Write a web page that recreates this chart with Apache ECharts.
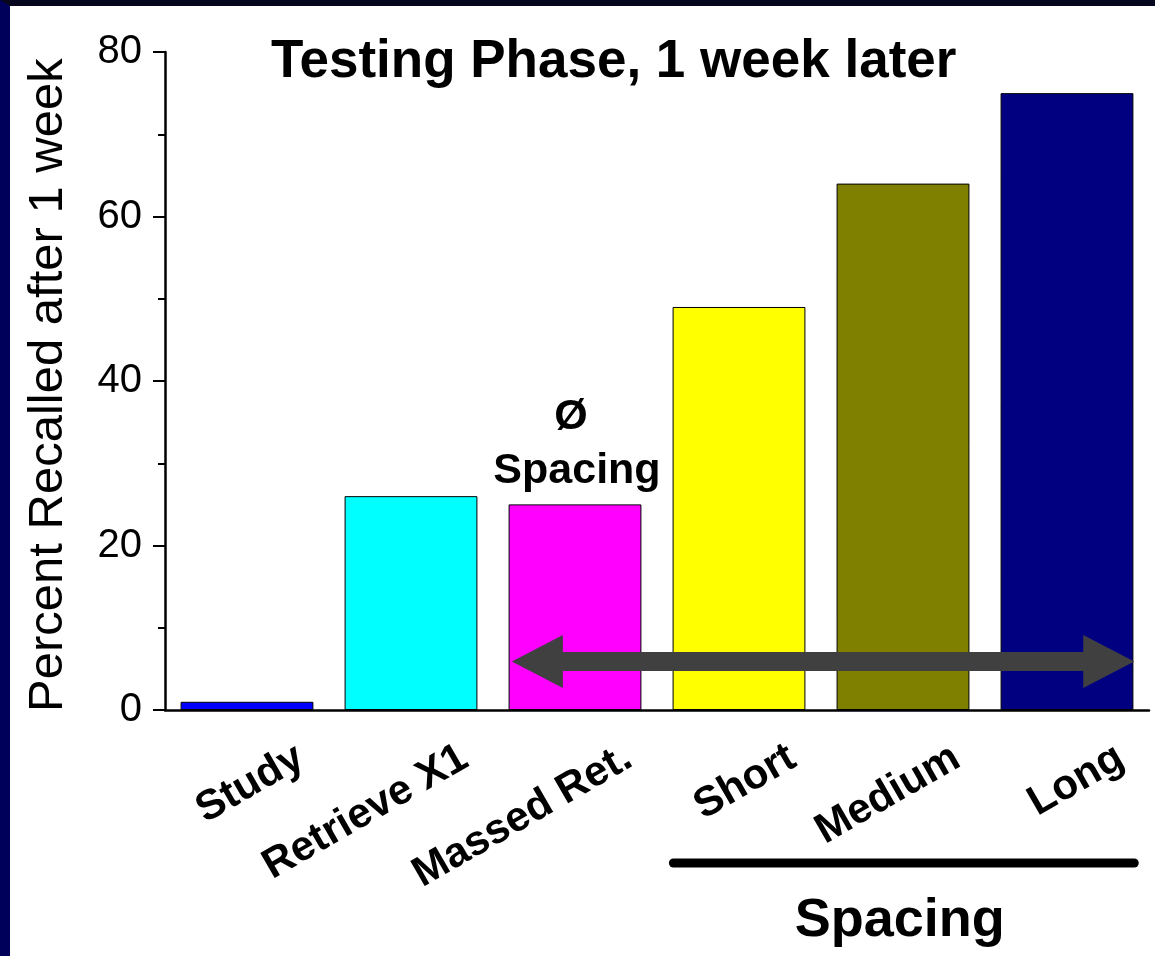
<!DOCTYPE html>
<html><head><meta charset="utf-8">
<script src="https://cdn.jsdelivr.net/npm/echarts@6/dist/echarts.min.js"></script>
<style>
html,body{margin:0;padding:0;background:#fff;overflow:hidden;}
#wrap{position:absolute;left:0;top:0;width:1145px;height:950px;border-left:10px solid #00005a;border-top:6px solid #06061e;background:#fff;}
#chart{width:1145px;height:950px;}
</style></head><body>
<div id="wrap"><div id="chart"></div></div>
<script>
// ---- data ----
const titleText = 'Testing Phase, 1 week later';
const yAxisName = 'Percent Recalled after 1 week';
const categories = ['Study', 'Retrieve X1', 'Massed Ret.', 'Short', 'Medium', 'Long'];
const values = [1, 26, 25, 49, 64, 75];
const barColors = ['#0000ff', '#00ffff', '#ff00ff', '#ffff00', '#808000', '#000080'];
const yMin = 0, yMax = 80, yInterval = 20;
const noSpacingLabel = ['Ø', 'Spacing'];
const spacingGroupLabel = 'Spacing';
const spacingGroup = [3, 5];      // category index range under the "Spacing" bracket
const arrowRange = [2, 5];        // arrow spans from Massed Ret. to Long
const arrowValue = 5.9;           // arrow height in data units

const FONT = '"Liberation Sans", Arial, Helvetica, sans-serif';
const chart = echarts.init(document.getElementById('chart'), null, {renderer: 'canvas'});

const option = {
  animation: false,
  backgroundColor: '#ffffff',
  title: {
    text: titleText, left: 261, top: 30, padding: 0,
    textStyle: {fontFamily: FONT, fontWeight: 'bold', fontSize: 53, color: '#000'}
  },
  grid: {left: 155, right: 6, top: 46, bottom: 246, containLabel: false},
  xAxis: {
    type: 'category', data: categories,
    axisLine: {lineStyle: {color: '#000', width: 2.5}},
    axisTick: {alignWithLabel: true, length: 15, lineStyle: {color: '#000', width: 2}},
    axisLabel: {interval: 0, rotate: 30, fontFamily: FONT, fontWeight: 'bold', fontSize: 42,
      color: '#000', margin: 76, padding: [0, -62, 0, 0]}
  },
  yAxis: {
    type: 'value', min: yMin, max: yMax, interval: yInterval,
    axisLine: {show: true, lineStyle: {color: '#000', width: 2.5}},
    axisTick: {show: true, length: 12, lineStyle: {color: '#000', width: 2}},
    minorTick: {show: true, splitNumber: 2, length: 7, lineStyle: {color: '#000', width: 2}},
    splitLine: {show: false},
    axisLabel: {fontFamily: FONT, fontSize: 40, color: '#000', margin: 23}
  },
  series: [{
    type: 'bar', barWidth: '81%',
    itemStyle: {borderColor: '#000', borderWidth: 1},
    data: values.map((v, i) => ({value: v, itemStyle: {color: barColors[i]}}))
  }]
};
chart.setOption(option);

// ---- annotations positioned through the chart's own scales ----
const P = (i, v) => chart.convertToPixel({gridIndex: 0}, [i, v]);
const band = P(1, 0)[0] - P(0, 0)[0];

// arrow
const yc = P(0, arrowValue)[1];
const xL = P(arrowRange[0], 0)[0] - band * 0.385;
const xR = P(arrowRange[1], 0)[0] + band * 0.41;
const hs = 9.5, hl = 51, hh = 26.5;
const arrowPts = [[xL, yc], [xL + hl, yc - hh], [xL + hl, yc - hs], [xR - hl, yc - hs], [xR - hl, yc - hh],
  [xR, yc], [xR - hl, yc + hh], [xR - hl, yc + hs], [xL + hl, yc + hs], [xL + hl, yc + hh]];

// spacing bracket line
const lineY = P(0, -18.6)[1];
const lx1 = P(spacingGroup[0], 0)[0] - band * 0.40;
const lx2 = P(spacingGroup[1], 0)[0] + band * 0.41;

const mCenter = P(2, 0)[0];
const nameY = P(0, 39.5)[1];

chart.setOption({
  graphic: [
    {type: 'polygon', shape: {points: arrowPts}, style: {fill: '#404040'}, z: 100},
    {type: 'line', shape: {x1: lx1, y1: lineY, x2: lx2, y2: lineY},
      style: {stroke: '#000', lineWidth: 9, lineCap: 'round'}, z: 100},
    {type: 'text', x: (lx1 + lx2) / 2 - 4, y: P(0, -25.7)[1], z: 100,
      style: {text: spacingGroupLabel, fontFamily: FONT, fontWeight: 'bold', fontSize: 54, fill: '#000',
        align: 'center', verticalAlign: 'middle'}},
    {type: 'text', x: mCenter - 4, y: P(0, 35.6)[1], z: 100,
      style: {text: noSpacingLabel[0], fontFamily: FONT, fontWeight: 'bold', fontSize: 43, fill: '#000',
        align: 'center', verticalAlign: 'middle'}},
    {type: 'text', x: mCenter + 2, y: P(0, 29)[1], z: 100,
      style: {text: noSpacingLabel[1], fontFamily: FONT, fontWeight: 'bold', fontSize: 43, fill: '#000',
        align: 'center', verticalAlign: 'middle'}},
    {type: 'text', x: 38, y: nameY, rotation: Math.PI / 2, z: 100,
      style: {text: yAxisName, fontFamily: FONT, fontSize: 49, fill: '#000',
        align: 'center', verticalAlign: 'middle'}}
  ]
});
</script></body></html>
